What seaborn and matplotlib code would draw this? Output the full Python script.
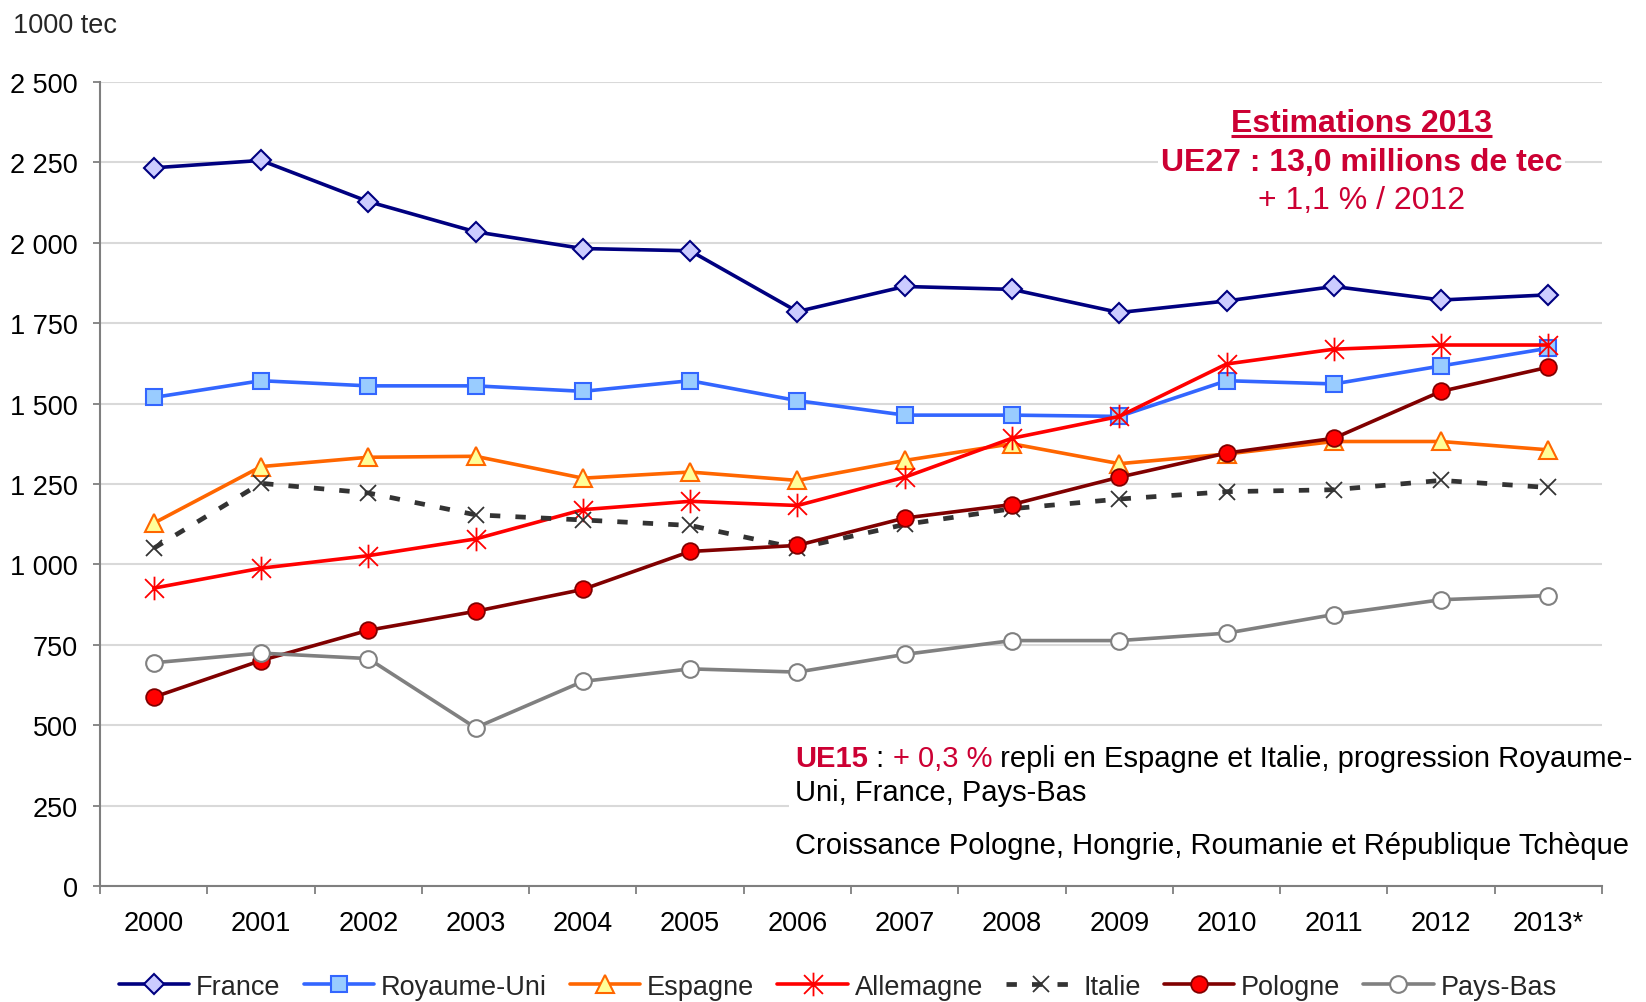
import matplotlib
matplotlib.use("Agg")
import matplotlib.pyplot as plt
import matplotlib.ticker as mticker
from matplotlib.path import Path
import numpy as np
import pandas as pd
import seaborn as sns

years = ["2000", "2001", "2002", "2003", "2004", "2005", "2006",
         "2007", "2008", "2009", "2010", "2011", "2012", "2013*"]

france = [2233, 2256, 2128, 2034, 1982, 1975, 1786, 1864, 1855, 1783, 1819, 1864, 1822, 1838]
royaume_uni = [1519, 1571, 1555, 1555, 1538, 1571, 1509, 1464, 1464, 1460, 1571, 1561, 1617, 1672]
espagne = [1128, 1304, 1333, 1336, 1268, 1287, 1261, 1323, 1375, 1313, 1343, 1382, 1382, 1356]
allemagne = [926, 988, 1027, 1079, 1170, 1196, 1183, 1271, 1392, 1460, 1623, 1669, 1682, 1682]
italie = [1050, 1252, 1222, 1154, 1138, 1121, 1050, 1124, 1173, 1203, 1226, 1232, 1261, 1239]
pologne = [587, 701, 795, 854, 922, 1040, 1059, 1144, 1186, 1271, 1346, 1392, 1538, 1613]
pays_bas = [694, 724, 707, 492, 636, 675, 665, 720, 763, 763, 786, 844, 890, 903]

series_names = ["France", "Royaume-Uni", "Espagne", "Allemagne", "Italie", "Pologne", "Pays-Bas"]
series_values = [france, royaume_uni, espagne, allemagne, italie, pologne, pays_bas]

# asterisk marker: vertical bar plus a cross
asterisk = Path(
    [(0, -1), (0, 1), (-0.8, -0.8), (0.8, 0.8), (-0.8, 0.8), (0.8, -0.8)],
    [Path.MOVETO, Path.LINETO, Path.MOVETO, Path.LINETO, Path.MOVETO, Path.LINETO],
)

styles = {
    "France": dict(color="#000080", marker="D", ms=10, mfc="#CCCCFF", mec="#000080", mew=1.5, lw=2.6),
    "Royaume-Uni": dict(color="#3366FF", marker="s", ms=11, mfc="#99CCFF", mec="#3366FF", mew=1.5, lw=2.6),
    "Espagne": dict(color="#FF6600", marker="^", ms=13, mfc="#FFFF99", mec="#FF6600", mew=1.5, lw=2.6),
    "Allemagne": dict(color="#FF0000", marker=asterisk, ms=17, mfc="none", mec="#FF0000", mew=1.3, lw=2.6),
    "Italie": dict(color="#333333", marker="x", ms=12, mfc="none", mec="#333333", mew=1.3, lw=3.4,
                   linestyle=(0, (2.2, 3.2))),
    "Pologne": dict(color="#800000", marker="o", ms=12, mfc="#FF0000", mec="#800000", mew=1.3, lw=2.6),
    "Pays-Bas": dict(color="#808080", marker="o", ms=12, mfc="white", mec="#808080", mew=1.5, lw=2.6),
}

sns.set_theme(style="white")
plt.rcParams["font.family"] = ["Liberation Sans", "DejaVu Sans"]

fig = plt.figure(figsize=(16.46, 10.03), dpi=100)
ax = fig.add_axes([0.0608, 0.1157, 0.9125, 0.8016])

x = np.arange(len(years))
for name, vals in zip(series_names, series_values):
    df = pd.DataFrame({"x": x, "y": vals})
    st = dict(styles[name])
    color = st.pop("color")
    sns.lineplot(data=df, x="x", y="y", ax=ax, color=color, label=name,
                 markersize=st.pop("ms"), markerfacecolor=st.pop("mfc"),
                 markeredgecolor=st.pop("mec"), markeredgewidth=st.pop("mew"),
                 linewidth=st.pop("lw"), marker=st.pop("marker"), **st)

ax.set_xlim(-0.5, len(years) - 0.5)
ax.set_ylim(0, 2500)
ax.set_xlabel("")
ax.set_ylabel("")

ax.yaxis.set_major_locator(mticker.MultipleLocator(250))
ax.yaxis.set_major_formatter(mticker.FuncFormatter(lambda v, p: f"{int(v):,}".replace(",", " ")))
ax.set_xticks(x)
ax.set_xticklabels(years)
ax.set_xticks(np.arange(-0.5, len(years), 1.0), minor=True)

ax.grid(axis="y", color="#D9D9D9", linewidth=1.5)
ax.grid(axis="x", visible=False)
ax.set_axisbelow(True)

for side in ["top", "right"]:
    ax.spines[side].set_visible(False)
for side in ["left", "bottom"]:
    ax.spines[side].set_color("#7F7F7F")
    ax.spines[side].set_linewidth(1.5)

ax.tick_params(axis="y", which="major", direction="out", length=5, width=1.3, color="#7F7F7F",
               labelsize=19.5, pad=11, left=True, labelcolor="black")
ax.tick_params(axis="x", which="major", length=0, labelsize=19.5, pad=17, labelcolor="black")
ax.tick_params(axis="x", which="minor", direction="out", length=6, width=1.3, color="#7F7F7F", bottom=True)

fig.text(0.008, 0.974, "1000 tec", fontsize=19.5, ha="left", va="center")

red = "#CC0033"
title = ax.text(0.84, 0.949, "Estimations 2013", transform=ax.transAxes, fontsize=23,
                fontweight="bold", color=red, ha="center", va="center")
ax.text(0.84, 0.901, "UE27 : 13,0 millions de tec", transform=ax.transAxes, fontsize=23,
        fontweight="bold", color=red, ha="center", va="center",
        bbox=dict(facecolor="white", edgecolor="none", pad=2))
ax.text(0.84, 0.853, "+ 1,1 % / 2012", transform=ax.transAxes, fontsize=23, color=red,
        ha="center", va="center")

fig.canvas.draw()
r = fig.canvas.get_renderer()
inv = ax.transAxes.inverted()
bb = title.get_window_extent(r)
(ux0, uy0), (ux1, _) = inv.transform([(bb.x0, bb.y0), (bb.x1, bb.y0)])
ax.plot([ux0, ux1], [uy0 + 0.002, uy0 + 0.002], transform=ax.transAxes, color=red, lw=2.2,
        solid_capstyle="butt")

# lower note with white box covering the grid
bx0 = 0.459
ax.add_patch(plt.Rectangle((bx0, 0.05), 0.6, 0.14, transform=ax.transAxes, facecolor="white",
                           edgecolor="none", clip_on=False, zorder=1.5))
t1 = ax.text(bx0 + 0.004, 0.159, "UE15", transform=ax.transAxes, fontsize=21, fontweight="bold",
             color=red, ha="left", va="center", zorder=3)
bb = t1.get_window_extent(r)
xa = inv.transform((bb.x1, bb.y0))[0]
t2 = ax.text(xa, 0.159, " : ", transform=ax.transAxes, fontsize=21, color="black",
             ha="left", va="center", zorder=3)
bb = t2.get_window_extent(r)
xa = inv.transform((bb.x1, bb.y0))[0]
t3 = ax.text(xa, 0.159, "+ 0,3 %", transform=ax.transAxes, fontsize=21, color=red,
             ha="left", va="center", zorder=3)
bb = t3.get_window_extent(r)
xa = inv.transform((bb.x1, bb.y0))[0]
ax.text(xa, 0.159, " repli en Espagne et Italie, progression Royaume-", transform=ax.transAxes,
        fontsize=21, color="black", ha="left", va="center", zorder=3)
ax.text(bx0 + 0.004, 0.117, "Uni, France, Pays-Bas", transform=ax.transAxes, fontsize=21,
        color="black", ha="left", va="center", zorder=3)
ax.text(bx0 + 0.004, 0.051, "Croissance Pologne, Hongrie, Roumanie et République Tchèque",
        transform=ax.transAxes, fontsize=21, color="black", ha="left", va="center", zorder=3)

handles, labels = ax.get_legend_handles_labels()
ax.legend(handles, labels, loc="center", bbox_to_anchor=(0.509, 0.015), bbox_transform=fig.transFigure,
          ncol=7, frameon=False, fontsize=19.5, handlelength=2.6, handletextpad=0.25,
          columnspacing=0.85, borderaxespad=0)

fig.savefig("out.png", dpi=100)
